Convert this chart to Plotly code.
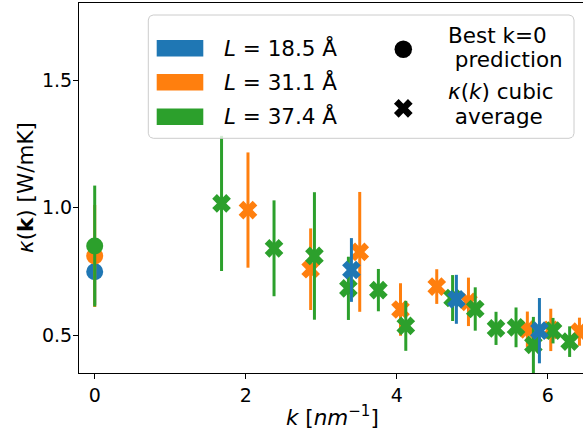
import numpy as np
import plotly.graph_objects as go

# ---------------- data ----------------
series_names = ["<i>L</i> = 18.5 Å", "<i>L</i> = 31.1 Å", "<i>L</i> = 37.4 Å"]
series_colors = ["#1f77b4", "#ff7f0e", "#2ca02c"]

# best k=0 prediction (circles)
k0_kappa = [0.748, 0.810, 0.849]
k0_err = [0.13, 0.20, 0.237]

# kappa(k) cubic average (crosses)
blue_k = [3.40, 4.79, 5.89]
blue_kappa = [0.755, 0.640, 0.517]
blue_err = [0.125, 0.096, 0.128]

orange_k = [2.03, 2.86, 3.51, 4.05, 4.53, 4.95, 5.73, 6.04, 6.42]
orange_kappa = [0.990, 0.758, 0.826, 0.600, 0.690, 0.630, 0.522, 0.520, 0.513]
orange_err = [0.226, 0.160, 0.235, 0.103, 0.068, 0.095, 0.070, 0.083, 0.055]

green_k = [1.68, 2.375, 2.91, 3.36, 3.757, 4.12, 4.74, 5.04, 5.315, 5.58, 5.81, 6.07, 6.29]
green_kappa = [1.016, 0.840, 0.810, 0.683, 0.676, 0.536, 0.645, 0.602, 0.526, 0.530, 0.461, 0.517, 0.474]
green_err = [0.265, 0.188, 0.250, 0.124, 0.083, 0.098, 0.090, 0.085, 0.065, 0.078, 0.110, 0.050, 0.060]

x_ticks = [0, 2, 4, 6]
y_ticks = [0.5, 1.0, 1.5]
x_range = [-0.208, 6.467]
y_range = [0.351, 1.802]

legend_right = ["Best k=0", " prediction", "<i>κ</i>(<i>k</i>) cubic", " average"]

# ---------------- layout constants ----------------
W, H = 583, 431
ML, MR, MT, MB = 79, 0, 3, 58
PW, PH = W - ML - MR, H - MT - MB
FONT = "DejaVu Sans"
TICK_FS = 19
LAB_FS = 21.5


def px2x(px):
    return (px - ML) / PW


def px2y(py):
    return (H - MB - py) / PH


fig = go.Figure()

cross_sets = [
    (1, orange_k, orange_kappa, orange_err),
    (2, green_k, green_kappa, green_err),
    (0, blue_k, blue_kappa, blue_err),
]
for idx, ks, kap, err in cross_sets:
    fig.add_trace(go.Scatter(
        x=ks, y=kap, mode="markers",
        marker=dict(symbol="x", size=16.5, color=series_colors[idx], line=dict(width=0)),
        error_y=dict(type="data", array=err, visible=True, thickness=3, width=0,
                     color=series_colors[idx]),
        showlegend=False, hoverinfo="skip",
    ))

for idx in [0, 1, 2]:
    fig.add_trace(go.Scatter(
        x=[0.0], y=[k0_kappa[idx]], mode="markers",
        marker=dict(symbol="circle", size=17, color=series_colors[idx], line=dict(width=0)),
        error_y=dict(type="data", array=[k0_err[idx]], visible=True, thickness=3, width=0,
                     color=series_colors[idx]),
        showlegend=False, hoverinfo="skip",
    ))

# ---------------- custom legend (overlay axes in paper-like units) ----------------
bx0, by0, bx1, by1, rad = 148.3, 15.0, 574.0, 138.3, 5.0
pts = []
corners = [(bx1 - rad, by0 + rad, -90, 0), (bx1 - rad, by1 - rad, 0, 90),
           (bx0 + rad, by1 - rad, 90, 180), (bx0 + rad, by0 + rad, 180, 270)]
for cx, cy, a0, a1 in corners:
    for a in np.linspace(np.radians(a0), np.radians(a1), 8):
        pts.append((cx + rad * np.cos(a), cy + rad * np.sin(a)))
pts.append(pts[0])
fig.add_trace(go.Scatter(
    x=[px2x(p[0]) for p in pts], y=[px2y(p[1]) for p in pts],
    xaxis="x2", yaxis="y2", mode="lines", fill="toself",
    fillcolor="rgba(255,255,255,0.8)", line=dict(color="#cccccc", width=1),
    showlegend=False, hoverinfo="skip",
))

patch_rows = [48.3, 82.3, 116.7]
for i, cy in enumerate(patch_rows):
    x0p, x1p, y0p, y1p = 156.7, 203.3, cy - 8.3, cy + 8.3
    fig.add_trace(go.Scatter(
        x=[px2x(x0p), px2x(x1p), px2x(x1p), px2x(x0p), px2x(x0p)],
        y=[px2y(y0p), px2y(y0p), px2y(y1p), px2y(y1p), px2y(y0p)],
        xaxis="x2", yaxis="y2", mode="lines", fill="toself",
        fillcolor=series_colors[i], line=dict(width=0, color=series_colors[i]),
        showlegend=False, hoverinfo="skip",
    ))
    fig.add_annotation(
        x=px2x(221.7), y=px2y(cy - 0.5), xref="paper", yref="paper",
        text=series_names[i], showarrow=False, xanchor="left", yanchor="middle",
        font=dict(family=FONT, size=LAB_FS, color="black"),
    )

fig.add_trace(go.Scatter(
    x=[px2x(403.3)], y=[px2y(49.3)], xaxis="x2", yaxis="y2", mode="markers",
    marker=dict(symbol="circle", size=17.5, color="black"),
    showlegend=False, hoverinfo="skip",
))
fig.add_trace(go.Scatter(
    x=[px2x(403.3)], y=[px2y(108.3)], xaxis="x2", yaxis="y2", mode="markers",
    marker=dict(symbol="x", size=16.5, color="black", line=dict(width=0)),
    showlegend=False, hoverinfo="skip",
))
for txt, cy in zip(legend_right, [35.0, 60.0, 91.7, 116.7]):
    fig.add_annotation(
        x=px2x(446), y=px2y(cy), xref="paper", yref="paper",
        text=txt, showarrow=False, xanchor="left", yanchor="middle",
        font=dict(family=FONT, size=LAB_FS, color="black"),
    )

# axis titles
fig.add_annotation(
    x=px2x(25), y=0.5, xref="paper", yref="paper", textangle=-90,
    text="<i>κ</i>(<b>k</b>) [W/mK]", showarrow=False,
    xanchor="center", yanchor="middle",
    font=dict(family=FONT, size=LAB_FS, color="black"),
)
fig.add_annotation(
    x=px2x(332), y=px2y(416), xref="paper", yref="paper",
    text="<i>k</i> [<i>nm</i><sup>−1</sup>]", showarrow=False,
    xanchor="center", yanchor="middle",
    font=dict(family=FONT, size=LAB_FS, color="black"),
)

fig.update_layout(
    template="none",
    width=W, height=H,
    margin=dict(l=ML, r=MR, t=MT, b=MB, pad=0),
    paper_bgcolor="white", plot_bgcolor="white",
    showlegend=False,
    xaxis=dict(range=x_range, tickvals=x_ticks, ticktext=[str(v) for v in x_ticks],
               showgrid=False, zeroline=False, showline=True, mirror=True,
               linecolor="black", linewidth=1, ticks="outside", ticklen=5,
               tickwidth=1, tickcolor="black", automargin=False,
               tickfont=dict(family=FONT, size=TICK_FS, color="black")),
    yaxis=dict(range=y_range, tickvals=y_ticks, ticktext=[f"{v:.1f}" for v in y_ticks],
               showgrid=False, zeroline=False, showline=True, mirror=False,
               linecolor="black", linewidth=1, ticks="outside", ticklen=5,
               tickwidth=1, tickcolor="black", automargin=False,
               ticklabelstandoff=-3,
               tickfont=dict(family=FONT, size=TICK_FS, color="black")),
    xaxis2=dict(overlaying="x", range=[0, 1], visible=False, fixedrange=True),
    yaxis2=dict(overlaying="y", range=[0, 1], visible=False, fixedrange=True),
)

# remove the default page margin so the figure sits at the window's top-left corner
fig.write_html(
    "out.html",
    config={"displayModeBar": False},
    post_script="document.body.style.margin='0';document.body.style.overflow='hidden';",
)
